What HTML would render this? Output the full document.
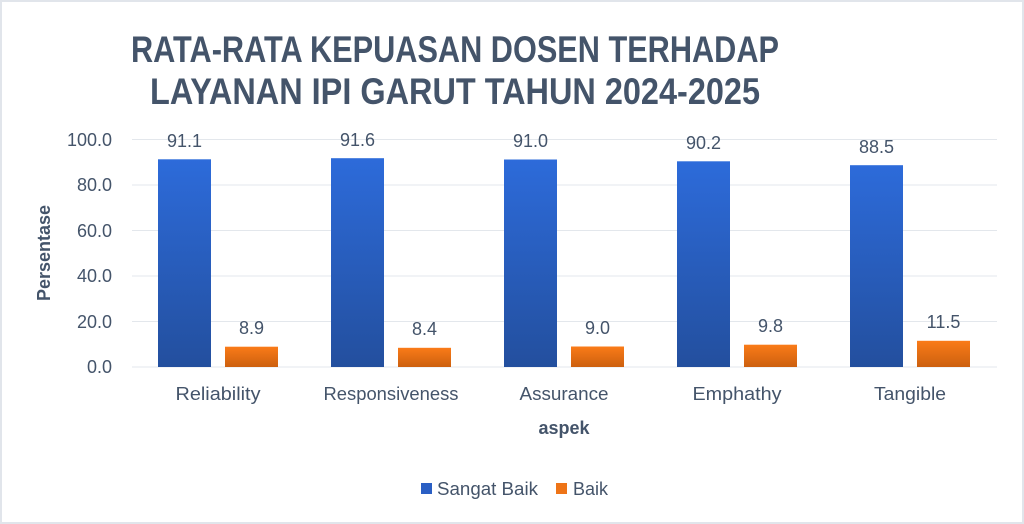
<!DOCTYPE html>
<html><head><meta charset="utf-8"><style>
html,body{margin:0;padding:0;background:#fff}
svg{display:block}
text{font-family:"Liberation Sans",sans-serif;fill:#44546A}
</style></head><body>
<svg width="1024" height="524" viewBox="0 0 1024 524">
<defs>
<linearGradient id="b" x1="0" y1="0" x2="0" y2="1"><stop offset="0" stop-color="#2D6BDA"/><stop offset="1" stop-color="#234F9E"/></linearGradient>
<linearGradient id="o" x1="0" y1="0" x2="0" y2="1"><stop offset="0" stop-color="#FA7B18"/><stop offset="1" stop-color="#CC600F"/></linearGradient>
</defs>
<rect x="1" y="1" width="1022" height="522" fill="#fff" stroke="#E1E5EB" stroke-width="2"/>
<text x="455" y="62" font-size="37" font-weight="bold" text-anchor="middle" textLength="648" lengthAdjust="spacingAndGlyphs">RATA-RATA KEPUASAN DOSEN TERHADAP</text>
<text x="455" y="104" font-size="37" font-weight="bold" text-anchor="middle" textLength="610" lengthAdjust="spacingAndGlyphs">LAYANAN IPI GARUT TAHUN 2024-2025</text>
<g stroke="#E3E7EC" stroke-width="1">
<line x1="132" x2="997" y1="139.5" y2="139.5"/><line x1="132" x2="997" y1="185" y2="185"/><line x1="132" x2="997" y1="230.5" y2="230.5"/><line x1="132" x2="997" y1="276" y2="276"/><line x1="132" x2="997" y1="321.5" y2="321.5"/><line x1="132" x2="997" y1="367" y2="367"/>
</g>
<g font-size="18" text-anchor="end">
<text x="112" y="146">100.0</text><text x="112" y="191">80.0</text><text x="112" y="237">60.0</text><text x="112" y="282">40.0</text><text x="112" y="328">20.0</text><text x="112" y="373">0.0</text>
</g>
<text transform="translate(50,253) rotate(-90)" font-size="18" font-weight="bold" text-anchor="middle">Persentase</text>
<g>
<rect x="158" y="159.3" width="53" height="207.7" fill="url(#b)"/>
<rect x="225" y="346.7" width="53" height="20.3" fill="url(#o)"/>
<rect x="331" y="158.2" width="53" height="208.8" fill="url(#b)"/>
<rect x="398" y="347.8" width="53" height="19.2" fill="url(#o)"/>
<rect x="504" y="159.5" width="53" height="207.5" fill="url(#b)"/>
<rect x="571" y="346.5" width="53" height="20.5" fill="url(#o)"/>
<rect x="677" y="161.3" width="53" height="205.7" fill="url(#b)"/>
<rect x="744" y="344.7" width="53" height="22.3" fill="url(#o)"/>
<rect x="850" y="165.2" width="53" height="201.8" fill="url(#b)"/>
<rect x="917" y="340.8" width="53" height="26.2" fill="url(#o)"/>
</g>
<g font-size="18" text-anchor="middle">
<text x="184.5" y="147">91.1</text><text x="251.5" y="334">8.9</text>
<text x="357.5" y="146">91.6</text><text x="424.5" y="335">8.4</text>
<text x="530.5" y="147">91.0</text><text x="597.5" y="334">9.0</text>
<text x="703.5" y="149">90.2</text><text x="770.5" y="332">9.8</text>
<text x="876.5" y="153">88.5</text><text x="943.5" y="328">11.5</text>
<text x="218" y="400" textLength="85" lengthAdjust="spacingAndGlyphs">Reliability</text>
<text x="391" y="400" textLength="135" lengthAdjust="spacingAndGlyphs">Responsiveness</text>
<text x="564" y="400" textLength="89" lengthAdjust="spacingAndGlyphs">Assurance</text>
<text x="737" y="400" textLength="89" lengthAdjust="spacingAndGlyphs">Emphathy</text>
<text x="910" y="400" textLength="72" lengthAdjust="spacingAndGlyphs">Tangible</text>
<text x="564" y="434" font-weight="bold">aspek</text>
</g>
<rect x="421" y="483" width="11" height="11" fill="#2A5FC4"/>
<text x="437" y="495" font-size="18" textLength="101" lengthAdjust="spacingAndGlyphs">Sangat Baik</text>
<rect x="556" y="483" width="11" height="11" fill="#EE7417"/>
<text x="573" y="495" font-size="18">Baik</text>
</svg>
</body></html>
